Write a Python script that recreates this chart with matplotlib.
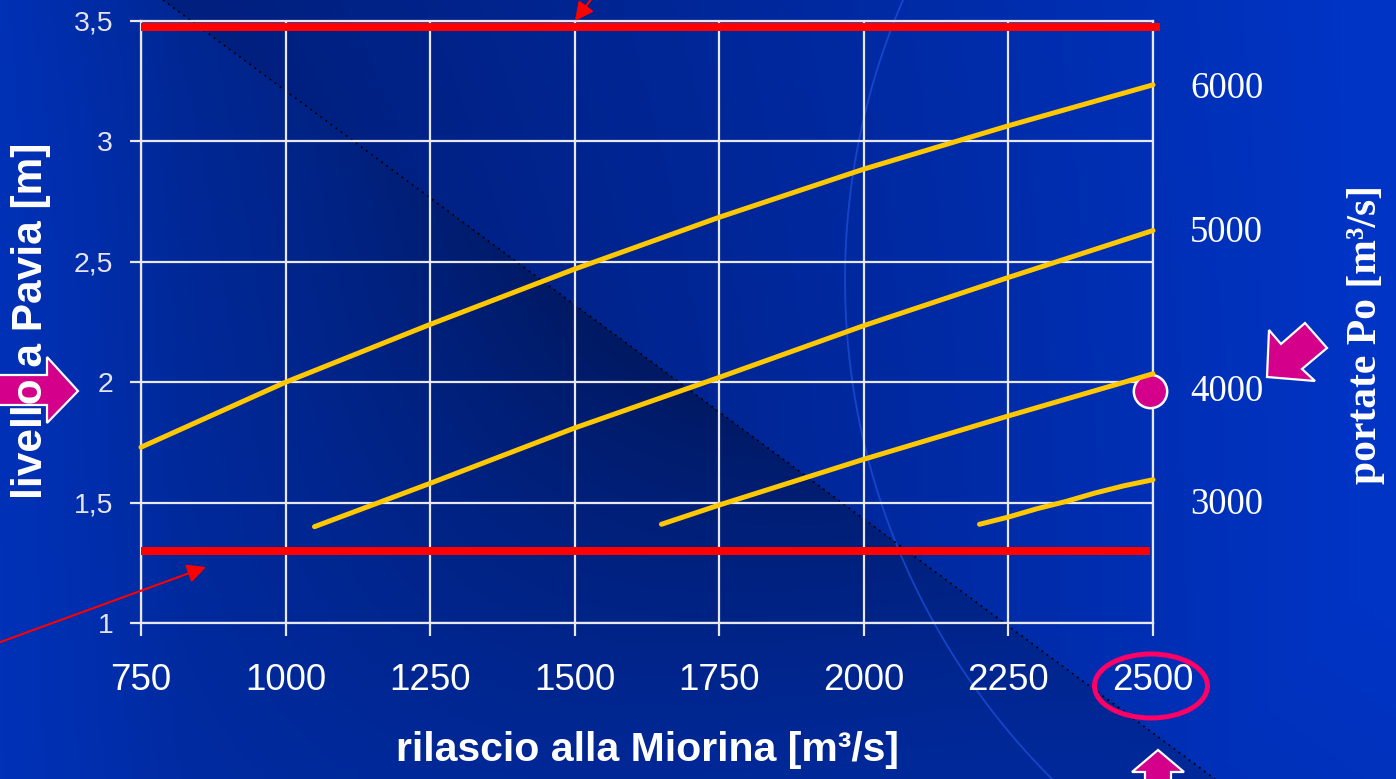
import numpy as np
import matplotlib
matplotlib.use("Agg")
import matplotlib.pyplot as plt
from matplotlib.patches import Polygon, Ellipse

# ---------------- data ----------------
x_ticks = [750, 1000, 1250, 1500, 1750, 2000, 2250, 2500]
y_ticks = [1, 1.5, 2, 2.5, 3, 3.5]
y_tick_labels = ["1", "1,5", "2", "2,5", "3", "3,5"]

curve_6000_x = [750, 1000, 1250, 1500, 1750, 2000, 2250, 2500]
curve_6000_y = [1.73, 2.00, 2.24, 2.47, 2.685, 2.885, 3.065, 3.235]

curve_5000_x = [1050, 1100, 1150, 1200, 1250, 1500, 1750, 2000, 2250, 2500]
curve_5000_y = [1.40, 1.445, 1.49, 1.535, 1.58, 1.81, 2.02, 2.235, 2.435, 2.63]

curve_4000_x = [1650, 1750, 2000, 2250, 2500]
curve_4000_y = [1.41, 1.49, 1.68, 1.86, 2.035]

curve_3000_x = [2200, 2250, 2300, 2350, 2400, 2450, 2500]
curve_3000_y = [1.41, 1.44, 1.475, 1.505, 1.54, 1.57, 1.595]

flow_labels = ["6000", "5000", "4000", "3000"]
flow_label_levels = [3.22, 2.62, 1.96, 1.49]

limit_high_x = [750, 2512]
limit_high_y = [3.475, 3.475]
limit_low_x = [750, 2495]
limit_low_y = [1.30, 1.30]

marker_x = [2495]
marker_y = [1.963]

# ---------------- figure ----------------
W, H = 1396, 779
DPI = 100
fig = plt.figure(figsize=(W / DPI, H / DPI), dpi=DPI)

SANS = "Liberation Sans"
SERIF = "Liberation Serif"
MAGENTA = "#d4008c"

# background
bg = fig.add_axes([0, 0, 1, 1], zorder=0)
yy, xx = np.mgrid[0:H, 0:W] + 0.5
p0 = np.array([163.0, 0.0])
vv = np.array([1052.0, 779.0])
L = np.hypot(*vv)
v = vv / L
n = np.array([-v[1], v[0]])
rx = xx - p0[0]
ry = yy - p0[1]
d = rx * n[0] + ry * n[1]
u = (rx * v[0] + ry * v[1]) / L

bright = np.array([0, 52, 196]) / 255
dark_r = np.array([0, 30, 122]) / 255
bright_l = np.array([0, 50, 186]) / 255
darkest = np.array([0, 25, 98]) / 255

uc = np.clip(u, 0, 1)
t_r = np.clip(0.8 * uc ** 1.5 + (-d) / 1500.0 + 0.05, 0, 1)[..., None]
col_r = dark_r + (bright - dark_r) * t_r
g_u = 0.35 + 0.65 * np.exp(-((uc - 0.45) / 0.32) ** 2)
w_l = (np.exp(-np.clip(d, 0, None) / 500.0) * g_u *
       np.clip((xx + 40) / 220.0, 0, 1))[..., None]
col_l = bright_l + (darkest - bright_l) * w_l
img = np.where((d < 0)[..., None], col_r, col_l)
bg.imshow(img, extent=[0, W, H, 0], aspect="auto", interpolation="bilinear")
bg.set_xlim(0, W)
bg.set_ylim(H, 0)
bg.axis("off")
# faint arc
cx, cy, R = 1550, 280, 705
ys = np.linspace(0, H, 300)
xs = cx - np.sqrt(np.clip(R ** 2 - (ys - cy) ** 2, 0, None))
bg.plot(xs, ys, color="#1f52e0", lw=1.3, alpha=0.7)
# dotted diagonal
bg.plot([163, 1215], [0, 779], color="black", lw=1.3, ls=(0, (1, 2.5)))

# main axes
ax = fig.add_axes([141 / W, (H - 623) / H, (1153 - 141) / W, (623 - 21) / H], zorder=2)
ax.patch.set_visible(False)
ax.set_xlim(750, 2500)
ax.set_ylim(1, 3.5)
ax.set_xticks(x_ticks)
ax.set_xticklabels([str(t) for t in x_ticks])
ax.set_yticks(y_ticks)
ax.set_yticklabels(y_tick_labels)
ax.grid(True, color="#e8e8f4", lw=1.6)
ax.set_axisbelow(True)
for s in ax.spines.values():
    s.set_color("#e8e8f4")
    s.set_linewidth(1.6)
ax.tick_params(axis="x", direction="out", length=9, width=1.6, color="#e8e8f4",
               labelsize=26.5, labelcolor="white", pad=20)
ax.tick_params(axis="y", direction="out", length=8, width=1.6, color="#e8e8f4",
               labelsize=20.5, labelcolor="#e4e4f0", pad=12)
for lab in ax.get_xticklabels() + ax.get_yticklabels():
    lab.set_family(SANS)

ax.plot(marker_x, marker_y, "o", ms=24, mfc=MAGENTA, mec="white", mew=1.8,
        clip_on=False, zorder=3)
ax.plot(limit_high_x, limit_high_y, color="#ff0000", lw=5.8, clip_on=False,
        solid_capstyle="butt", zorder=3)
ax.plot(limit_low_x, limit_low_y, color="#ff0000", lw=5.8, clip_on=False,
        solid_capstyle="butt", zorder=3)
for cxs, cys in [(curve_6000_x, curve_6000_y), (curve_5000_x, curve_5000_y),
                 (curve_4000_x, curve_4000_y), (curve_3000_x, curve_3000_y)]:
    ax.plot(cxs, cys, color="#ffc800", lw=3.6, solid_capstyle="round",
            solid_joinstyle="round", clip_on=False, zorder=4)
for lab, lev in zip(flow_labels, flow_label_levels):
    ax.text(1.0366, lev, lab, transform=ax.get_yaxis_transform(), ha="left",
            va="center", family=SERIF, fontsize=26.5, color="white", clip_on=False)

# overlay (decorations, pixel coordinates)
ov = fig.add_axes([0, 0, 1, 1], zorder=5)
ov.set_xlim(0, W)
ov.set_ylim(H, 0)
ov.axis("off")
ov.patch.set_visible(False)

ov.add_patch(Polygon([(-5, 375), (47, 375), (47, 357), (78, 391), (47, 423),
                      (47, 405), (-5, 405)], closed=True, fc=MAGENTA, ec="white",
                     lw=1.6, zorder=2))
ov.add_patch(Polygon([(1267, 377), (1269, 330), (1281, 344), (1305, 323),
                      (1327, 348), (1302, 369), (1315, 381)], closed=True,
                     fc=MAGENTA, ec="white", lw=1.6, zorder=2))
ov.add_patch(Polygon([(1158, 750), (1184, 772), (1171, 772), (1171, 790),
                      (1145, 790), (1145, 772), (1132, 772)], closed=True,
                     fc=MAGENTA, ec="white", lw=1.6, zorder=2, clip_on=False))
ov.add_patch(Ellipse((1151, 686), 113, 64, fill=False, ec="#ff0066", lw=3.6, zorder=2))

ov.annotate("", xy=(206, 567), xytext=(-5, 644),
            arrowprops=dict(arrowstyle="-|>", color="#ff0000", lw=1.5,
                            mutation_scale=28, shrinkA=0, shrinkB=0),
            annotation_clip=False, zorder=3)
ov.annotate("", xy=(575, 21), xytext=(598, -10),
            arrowprops=dict(arrowstyle="-|>", color="#ff0000", lw=1.5,
                            mutation_scale=28, shrinkA=0, shrinkB=0),
            annotation_clip=False, zorder=3)

ov.text(31, 321, "livello a Pavia [m]", rotation=90, ha="center", va="center",
        family=SANS, fontweight="bold", fontsize=30.5, color="white", zorder=4)
ov.text(647, 750, "rilascio alla Miorina [m³/s]", ha="center", va="center",
        family=SANS, fontweight="bold", fontsize=29.5, color="white", zorder=4)
ov.text(1366, 334, "portate Po [m³/s]", rotation=90, ha="center", va="center",
        family=SERIF, fontweight="bold", fontsize=30, color="white", zorder=4)

fig.savefig("out.png", dpi=DPI)
